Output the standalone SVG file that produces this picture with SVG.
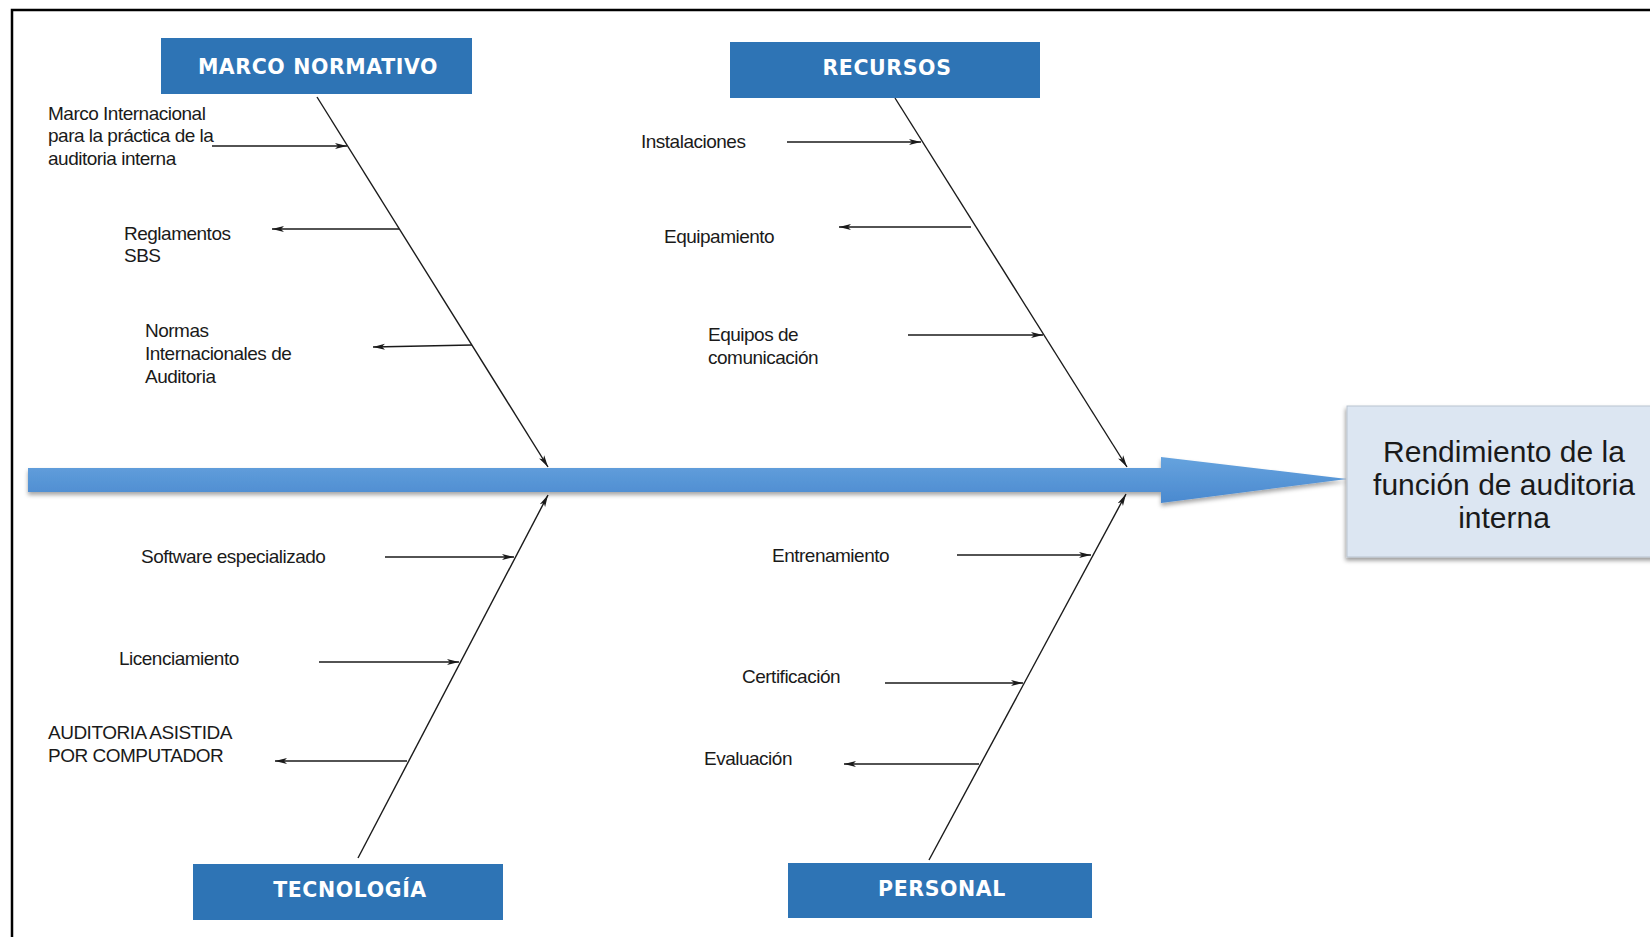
<svg xmlns="http://www.w3.org/2000/svg" width="1650" height="937" viewBox="0 0 1650 937">
<style>
.hdr{fill:#2E74B5;}
.hdrt{font-family:"DejaVu Sans",sans-serif;font-weight:bold;font-size:20.5px;letter-spacing:0.6px;fill:#ffffff;text-anchor:middle;}
.lbl{font-family:"Liberation Sans",Arial,sans-serif;font-size:19px;letter-spacing:-0.5px;fill:#1a1a1a;}
.sub{stroke:#1a1a1a;stroke-width:1.4;fill:none;marker-end:url(#ah);}
.res{font-family:"Liberation Sans",Arial,sans-serif;font-size:30px;fill:#1a1a1a;text-anchor:middle;}
</style>
<defs>
<marker id="ah" markerUnits="userSpaceOnUse" markerWidth="13" markerHeight="8" refX="12" refY="4" orient="auto">
<path d="M0,1 L12,4 L0,7 L3,4 z" fill="#1a1a1a"/>
</marker>
<linearGradient id="spineGrad" x1="0" y1="0" x2="0" y2="1">
<stop offset="0" stop-color="#66a3de"/>
<stop offset="1" stop-color="#4a89cf"/>
</linearGradient>
<filter id="sh" x="-5%" y="-30%" width="110%" height="180%">
<feDropShadow dx="0" dy="3" stdDeviation="2" flood-color="#000" flood-opacity="0.35"/>
</filter>
<filter id="sh2" x="-10%" y="-10%" width="120%" height="130%">
<feDropShadow dx="-1" dy="3" stdDeviation="2" flood-color="#000" flood-opacity="0.4"/>
</filter>
</defs>
<rect width="1650" height="937" fill="#ffffff"/>
<rect id="frame" x="12" y="10" width="1700" height="1000" fill="none" stroke="#000" stroke-width="2.5"/>

<g id="spine" filter="url(#sh)">
<path d="M28,468 L1161,468 L1161,457 L1347,479 L1161,503 L1161,492 L28,492 Z" fill="url(#spineGrad)"/>
</g>

<g id="connectors">
<line class="sub" x1="317" y1="97" x2="548" y2="467"/>
<line class="sub" x1="895" y1="98" x2="1127" y2="467"/>
<line class="sub" x1="358" y1="858" x2="548" y2="495"/>
<line class="sub" x1="929" y1="860" x2="1126" y2="494"/>
<line class="sub" x1="212" y1="146" x2="347" y2="146"/>
<line class="sub" x1="399" y1="229" x2="272" y2="229"/>
<line class="sub" x1="472" y1="345" x2="373" y2="347"/>
<line class="sub" x1="787" y1="142" x2="921" y2="142"/>
<line class="sub" x1="971" y1="227" x2="839" y2="227"/>
<line class="sub" x1="908" y1="335" x2="1043" y2="335"/>
<line class="sub" x1="385" y1="557" x2="514" y2="557"/>
<line class="sub" x1="319" y1="662" x2="459" y2="662"/>
<line class="sub" x1="407" y1="761" x2="275" y2="761"/>
<line class="sub" x1="957" y1="555" x2="1091" y2="555"/>
<line class="sub" x1="885" y1="683" x2="1023" y2="683"/>
<line class="sub" x1="979" y1="764" x2="844" y2="764"/>
</g>

<g id="marco-normativo"><rect class="hdr" x="161" y="38" width="311" height="56"/><text class="hdrt" x="318" y="74">MARCO NORMATIVO</text></g>
<g id="recursos"><rect class="hdr" x="730" y="42" width="310" height="56"/><text class="hdrt" x="887" y="75">RECURSOS</text></g>
<g id="tecnologia"><rect class="hdr" x="193" y="864" width="310" height="56"/><text class="hdrt" x="350" y="897">TECNOLOGÍA</text></g>
<g id="personal"><rect class="hdr" x="788" y="863" width="304" height="55"/><text class="hdrt" x="942" y="896">PERSONAL</text></g>

<g id="resultado">
<rect x="1347" y="406" width="320" height="151" fill="#dce6f2" stroke="#b9c3cf" stroke-width="1" filter="url(#sh2)"/>
<text class="res" x="1504" y="462">Rendimiento de la</text>
<text class="res" x="1504" y="495">función de auditoria</text>
<text class="res" x="1504" y="528">interna</text>
</g>

<g id="c-marco-internacional"><text class="lbl" x="48" y="120">Marco Internacional</text><text class="lbl" x="48" y="142">para la práctica de la</text><text class="lbl" x="48" y="165">auditoria interna</text></g>
<g id="c-reglamentos"><text class="lbl" x="124" y="240">Reglamentos</text><text class="lbl" x="124" y="262">SBS</text></g>
<g id="c-normas"><text class="lbl" x="145" y="337">Normas</text><text class="lbl" x="145" y="360">Internacionales de</text><text class="lbl" x="145" y="383">Auditoria</text></g>
<g id="c-instalaciones"><text class="lbl" x="641" y="148">Instalaciones</text></g>
<g id="c-equipamiento"><text class="lbl" x="664" y="243">Equipamiento</text></g>
<g id="c-equipos"><text class="lbl" x="708" y="341">Equipos de</text><text class="lbl" x="708" y="364">comunicación</text></g>
<g id="c-software"><text class="lbl" x="141" y="563">Software especializado</text></g>
<g id="c-licenciamiento"><text class="lbl" x="119" y="665">Licenciamiento</text></g>
<g id="c-caat"><text class="lbl" x="48" y="739">AUDITORIA ASISTIDA</text><text class="lbl" x="48" y="762">POR COMPUTADOR</text></g>
<g id="c-entrenamiento"><text class="lbl" x="772" y="562">Entrenamiento</text></g>
<g id="c-certificacion"><text class="lbl" x="742" y="683">Certificación</text></g>
<g id="c-evaluacion"><text class="lbl" x="704" y="765">Evaluación</text></g>
</svg>
